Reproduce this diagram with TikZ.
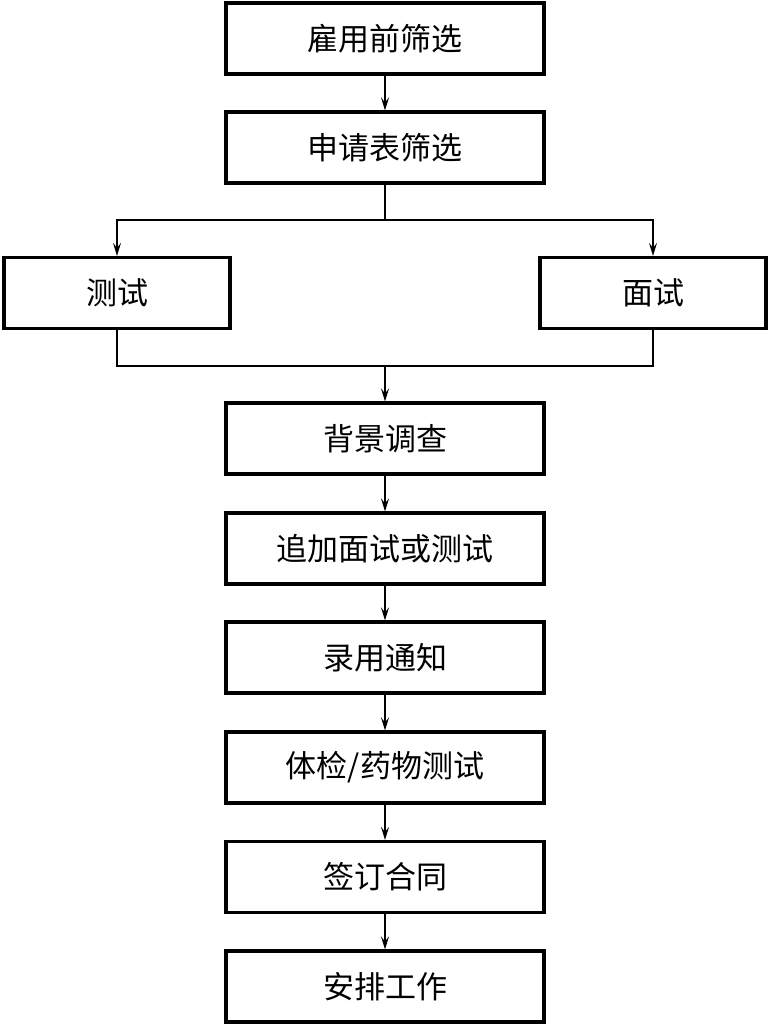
\documentclass[tikz,border=0pt]{standalone}
\usepackage{fontspec}
\newfontfamily\cjk{Noto Sans CJK SC}
\usetikzlibrary{arrows.meta}
\begin{document}
\begin{tikzpicture}[x=1pt,y=-1pt,
  box/.style={draw, line width=3.2pt, minimum width=318pt, minimum height=71pt, inner sep=0pt, font=\cjk\fontsize{31}{34}\selectfont},
  sidebox/.style={box, minimum width=226pt},
  conn/.style={line width=1.4pt},
  arr/.style={conn, -{Stealth[length=13pt,width=8pt,inset=5pt]}}]
\useasboundingbox (0,0) rectangle (769,1025);
\node[box] (b1) at (385,38.5) {雇用前筛选};
\node[box] (b2) at (385,147.5) {申请表筛选};
\node[sidebox] (test) at (117,293) {测试};
\node[sidebox] (inter) at (653,293) {面试};
\node[box] (b3) at (385,438.5) {背景调查};
\node[box] (b4) at (385,548.5) {追加面试或测试};
\node[box] (b5) at (385,657.5) {录用通知};
\node[box] (b6) at (385,767.5) {体检/药物测试};
\node[box] (b7) at (385,877) {签订合同};
\node[box] (b8) at (385,986.5) {安排工作};
\coordinate (split) at (385,220);
\coordinate (join) at (385,366);
\draw[arr] (b1) -- (b2);
\draw[conn] (b2.south) -- (split);
\draw[arr] (split) -| (test.north);
\draw[arr] (split) -| (inter.north);
\draw[conn] (test.south) |- (join);
\draw[conn] (inter.south) |- (join);
\draw[arr] (join) -- (b3.north);
\draw[arr] (b3) -- (b4);
\draw[arr] (b4) -- (b5);
\draw[arr] (b5) -- (b6);
\draw[arr] (b6) -- (b7);
\draw[arr] (b7) -- (b8);
\end{tikzpicture}
\end{document}
